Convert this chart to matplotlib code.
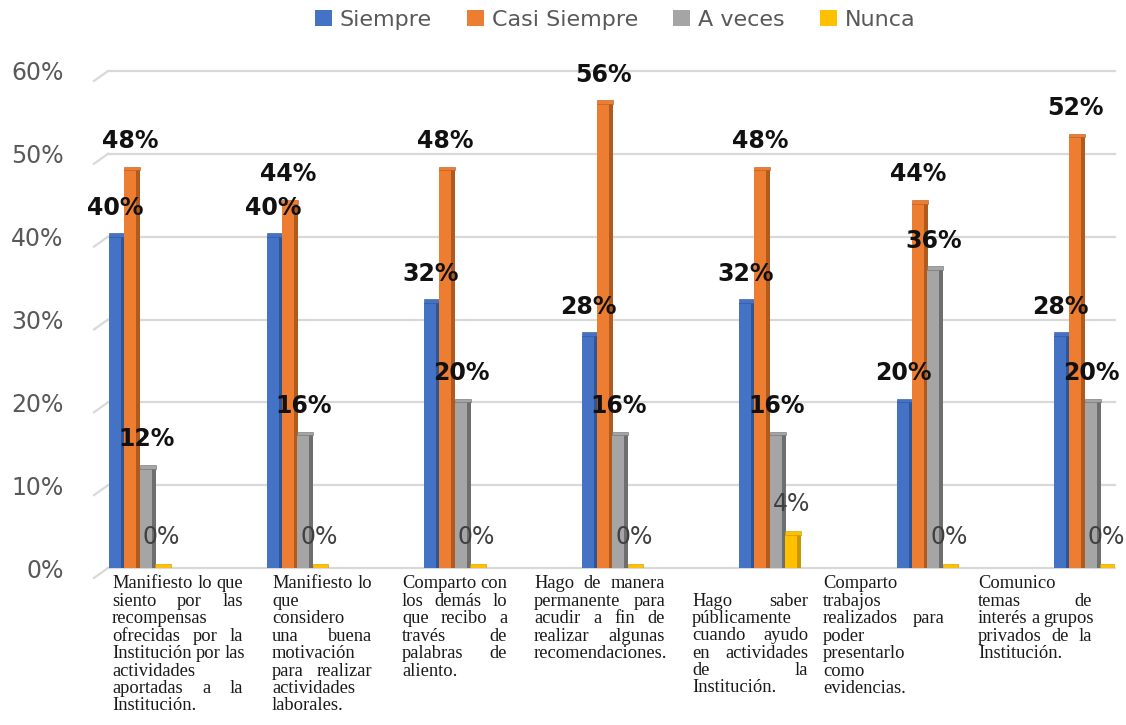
import matplotlib
matplotlib.use('Agg')
import numpy as np
import matplotlib.pyplot as plt
from matplotlib.patches import Patch
import matplotlib.transforms as mtransforms

# data
series = ['Siempre', 'Casi Siempre', 'A veces', 'Nunca']
siempre = [40, 40, 32, 28, 32, 20, 28]
casi_siempre = [48, 44, 48, 56, 48, 44, 52]
a_veces = [12, 16, 20, 16, 16, 36, 20]
nunca = [0, 0, 0, 0, 4, 0, 0]
yticks = [0, 10, 20, 30, 40, 50, 60]

categories = [
    ['Manifiesto lo que', 'siento por las', 'recompensas', 'ofrecidas por la',
     'Institución por las', 'actividades', 'aportadas a la', 'Institución.'],
    ['Manifiesto lo', 'que', 'considero', 'una buena', 'motivación',
     'para realizar', 'actividades', 'laborales.'],
    ['Comparto con', 'los demás lo', 'que recibo a', 'través de',
     'palabras de', 'aliento.'],
    ['Hago de manera', 'permanente para', 'acudir a fin de',
     'realizar algunas', 'recomendaciones.'],
    ['Hago saber', 'públicamente', 'cuando ayudo', 'en actividades',
     'de la', 'Institución.'],
    ['Comparto', 'trabajos', 'realizados para', 'poder', 'presentarlo',
     'como', 'evidencias.'],
    ['Comunico', 'temas de', 'interés a grupos', 'privados de la',
     'Institución.'],
]

colors = ['#4472C4', '#ED7D31', '#A5A5A5', '#FFC000']
sides = ['#2F5597', '#B05A1E', '#6E6E6E', '#C79600']

W, H = 1126, 725
fig = plt.figure(figsize=(W / 100, H / 100), dpi=100)
ax_l, ax_r, ax_b, ax_t = 108, 1115, 568, 71
ax = fig.add_axes([ax_l / W, 1 - ax_b / H, (ax_r - ax_l) / W, (ax_b - ax_t) / H])

step = 157.5
x0 = (140 - ax_l) / step
ax.set_xlim(-x0, -x0 + (ax_r - ax_l) / step)
ax.set_ylim(0, 60)

x = np.arange(len(siempre))
face_w = 0.076
side_w = 0.023
offsets = [-0.146, -0.049, 0.049, 0.146]
data = [siempre, casi_siempre, a_veces, nunca]

for k, vals in enumerate(data):
    pos = x + offsets[k]
    vals = np.array(vals)
    ax.bar(pos - side_w / 2, vals, width=face_w, color=colors[k], zorder=3 + k)
    ax.bar(pos + face_w / 2, vals, width=side_w, color=sides[k], zorder=3 + k)
    # thin top face of the 3D column
    ax.bar(pos, 0.45, bottom=vals, width=face_w + side_w, color=colors[k],
           edgecolor=sides[k], linewidth=0.4, zorder=3 + k)
    for xi, v in zip(pos, vals):
        if k == 3:
            ax.annotate(f'{v}%', (xi - 0.01, v), xytext=(0, 22),
                        textcoords='offset points', ha='center', va='center',
                        fontsize=17, color='#404040', zorder=10)
        else:
            ax.annotate(f'{v}%', (xi - 0.01, v), xytext=(0, 21),
                        textcoords='offset points', ha='center', va='center',
                        fontsize=17, fontweight='bold', color='#111111',
                        zorder=10)

# gridlines with the little slanted lead-in of the 3D floor
trans = mtransforms.blended_transform_factory(ax.transAxes, ax.transData)
lead = 14 / (ax_r - ax_l)
for t in yticks:
    ax.plot([0, 1], [t, t], color='#D9D9D9', lw=1.6, transform=trans, zorder=1,
            clip_on=False)
    ax.plot([-lead, 0], [t - 1.2, t], color='#D9D9D9', lw=1.6, transform=trans,
            zorder=1, clip_on=False)

ax.set_yticks(yticks)
ax.set_yticklabels([f'{t}%' for t in yticks], fontsize=17, color='#595959')
ax.tick_params(axis='y', length=0, pad=32)
ax.tick_params(axis='x', length=0, labelbottom=False)
for s in ax.spines.values():
    s.set_visible(False)
ax.set_xticks([])

handles = [Patch(facecolor=c, label=s) for c, s in zip(colors, series)]
leg = fig.legend(handles=handles, loc='center', bbox_to_anchor=(615 / W, 1 - 20 / H),
                 ncol=4, frameon=False, fontsize=16, handlelength=0.75,
                 handleheight=0.75, handletextpad=0.35, columnspacing=1.6)
for txt in leg.get_texts():
    txt.set_color('#595959')

# category labels: justified serif text boxes below each group
lab_left = [112, 272, 402, 534, 692, 823, 978]
lab_width = [131, 100, 105, 131, 116, 121, 114]
lab_top = [584, 584, 584, 584, 601, 584, 584]
lh = 17.4
kw = dict(family='Liberation Serif', fontsize=13.3, color='#1A1A1A')
renderer = fig.canvas.get_renderer()


def put_lines(lines, left, top, width):
    for k, line in enumerate(lines):
        y = 1 - (top + k * lh) / H
        words = line.split()
        if len(words) == 1 or k == len(lines) - 1:
            fig.text(left / W, y, line, ha='left', va='center', **kw)
            continue
        widths = []
        for w in words:
            t = fig.text(0, 0, w, **kw)
            widths.append(t.get_window_extent(renderer).width)
            t.remove()
        gap = max((width - sum(widths)) / (len(words) - 1), 4)
        xp = left
        for w, wd in zip(words, widths):
            fig.text(xp / W, y, w, ha='left', va='center', **kw)
            xp += wd + gap


for lines, l, w, t in zip(categories, lab_left, lab_width, lab_top):
    put_lines(lines, l, t, w)

fig.savefig('out.png', dpi=100, facecolor='white')
